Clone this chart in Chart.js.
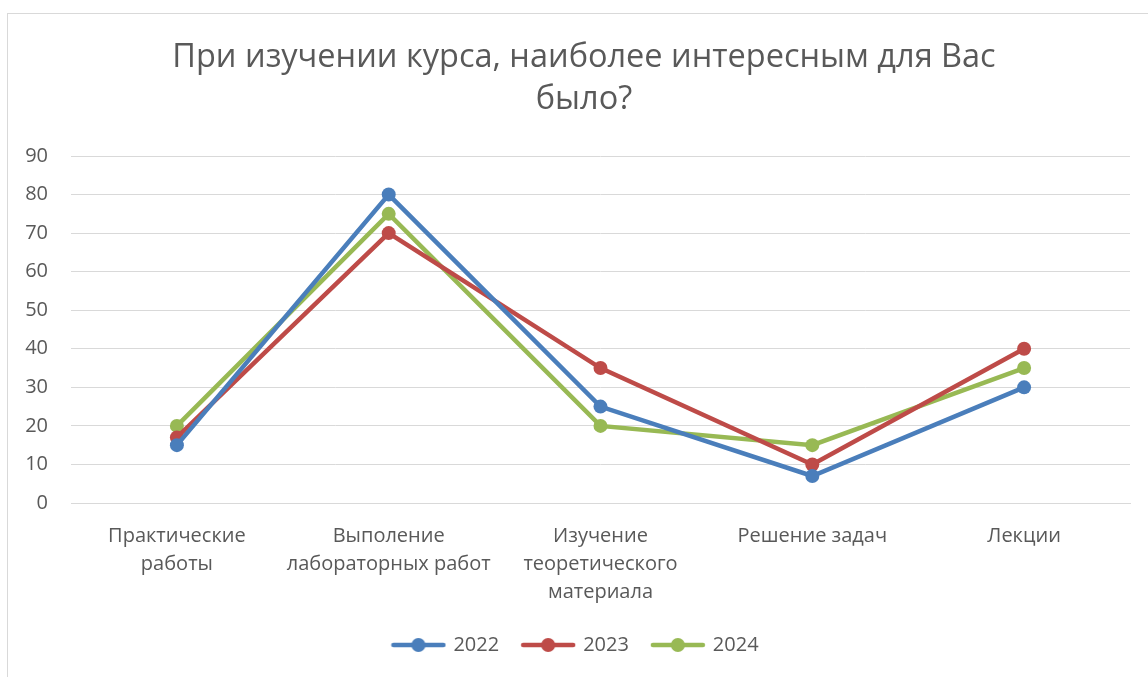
<!DOCTYPE html>
<html>
<head>
<meta charset="utf-8">
<script src="https://cdn.jsdelivr.net/npm/chart.js@4.4.0/dist/chart.umd.min.js"></script>
<style>
  html, body { margin: 0; padding: 0; background: #fff; overflow: hidden; }
  #frame { position: absolute; left: 7px; top: 13px; width: 1200px; height: 700px; border: 1px solid #d9d9d9; box-sizing: border-box; }
  #wrap { position: absolute; left: 0; top: 0; width: 1168px; height: 677px; }
</style>
</head>
<body>
<div id="frame"></div>
<div id="wrap"><canvas id="chart"></canvas></div>
<script>
const categories = [
  ['Практические', 'работы'],
  ['Выполение', 'лабораторных работ'],
  ['Изучение', 'теоретического', 'материала'],
  ['Решение задач'],
  ['Лекции']
];
const years = ['2022', '2023', '2024'];
const values2022 = [15, 80, 25, 7, 30];
const values2023 = [17, 70, 35, 10, 40];
const values2024 = [20, 75, 20, 15, 35];
const colors = ['#4a7ebb', '#be4b48', '#98b954'];
const titleLines = ['При изучении курса, наиболее интересным для Вас', 'было?'];

const FONT = "'Open Sans', 'Noto Sans', sans-serif";
const TEXT = '#595959';

// legend marker: short line with a dot in the middle
function legendIcon(color) {
  const c = document.createElement('canvas');
  c.width = 56; c.height = 16;
  const g = c.getContext('2d');
  g.strokeStyle = color;
  g.lineWidth = 4.5;
  g.lineCap = 'round';
  g.beginPath(); g.moveTo(3, 8); g.lineTo(53, 8); g.stroke();
  g.fillStyle = color;
  g.beginPath(); g.arc(28, 8, 7, 0, Math.PI * 2); g.fill();
  return c;
}

function series(label, data, color) {
  return {
    label: label,
    data: data,
    borderColor: color,
    backgroundColor: color,
    borderWidth: 4.5,
    pointRadius: 7,
    pointHoverRadius: 7,
    pointBorderWidth: 0,
    pointStyle: 'circle',
    tension: 0,
    fill: false
  };
}

// title drawn by hand so it sits over the middle of the frame
const titlePlugin = {
  id: 'frameTitle',
  afterDraw(chart) {
    const ctx = chart.ctx;
    ctx.save();
    ctx.fillStyle = TEXT;
    ctx.font = "32.5px " + FONT;
    ctx.textAlign = 'center';
    ctx.textBaseline = 'middle';
    titleLines.forEach(function(line, i) {
      ctx.fillText(line, 584, 58 + i * 42);
    });
    ctx.restore();
  }
};

const datasets = [
  series(years[0], values2022, colors[0]),
  series(years[1], values2023, colors[1]),
  series(years[2], values2024, colors[2])
];
const icons = colors.map(legendIcon);

new Chart(document.getElementById('chart'), {
  type: 'line',
  data: { labels: categories, datasets: datasets },
  plugins: [titlePlugin],
  options: {
    responsive: true,
    maintainAspectRatio: false,
    animation: false,
    layout: { padding: { left: 22, right: 38, top: 156, bottom: 12 } },
    plugins: {
      title: { display: false },
      legend: {
        position: 'bottom',
        labels: {
          color: TEXT,
          font: { family: FONT, size: 20 },
          usePointStyle: true,
          pointStyleWidth: 50,
          padding: 24,
          generateLabels: function(chart) {
            return chart.data.datasets.map(function(ds, i) {
              return {
                text: ds.label,
                pointStyle: icons[i],
                fillStyle: ds.borderColor,
                strokeStyle: ds.borderColor,
                lineWidth: 0,
                fontColor: TEXT,
                datasetIndex: i
              };
            });
          }
        }
      },
      tooltip: { enabled: false }
    },
    scales: {
      x: {
        offset: true,
        grid: { display: false, offset: true },
        border: { display: true, color: '#d9d9d9' },
        ticks: {
          color: TEXT,
          font: { family: FONT, size: 20, lineHeight: 1.4 },
          padding: 11,
          maxRotation: 0,
          autoSkip: false
        },
        afterFit: function(scale) { scale.height = 108; }
      },
      y: {
        min: 0,
        max: 90,
        ticks: {
          stepSize: 10,
          color: TEXT,
          font: { family: FONT, size: 20 },
          padding: 23
        },
        grid: { color: '#d9d9d9', lineWidth: 1, drawTicks: false },
        border: { display: false },
        afterFit: function(scale) { scale.width = 49; }
      }
    }
  }
});
</script>
</body>
</html>
